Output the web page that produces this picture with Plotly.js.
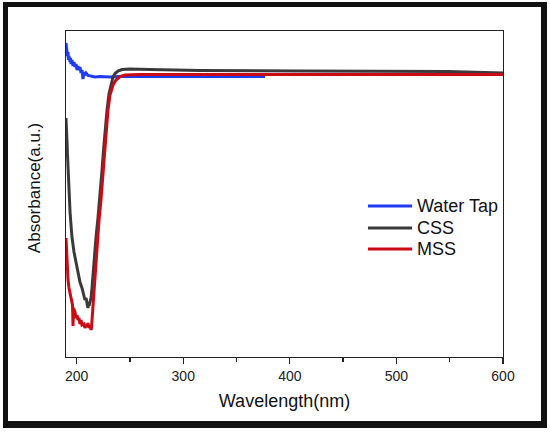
<!DOCTYPE html>
<html>
<head>
<meta charset="utf-8">
<script src="https://cdn.plot.ly/plotly-3.0.1.min.js"></script>
<style>
  html, body { margin: 0; padding: 0; background: #ffffff; }
  #wrap { position: relative; width: 550px; height: 432px; overflow: hidden; background: #fff; }
  #chart { position: absolute; left: 0; top: 0; width: 550px; height: 432px; }
  #frame { position: absolute; left: 3px; top: 2px; width: 544px; height: 426px; box-sizing: border-box;
           border-top: 5px solid #111; border-left: 5px solid #111; border-right: 6px solid #111; border-bottom: 7px solid #111;
           pointer-events: none; }
</style>
</head>
<body>
<div id="wrap">
  <div id="chart"></div>
  <div id="frame"></div>
</div>
<script>
// ---- Data (wavelength in nm, absorbance in arbitrary units) ----
var seriesNames = ["Water Tap", "CSS", "MSS"];

var waterTapX = [190, 190.5, 190.9, 191.4, 191.9, 192.3, 192.8, 193.8, 194.2, 194.7, 195.6, 196.6, 197.5, 198.4, 199.4,
  200.3, 201.3, 202.2, 203.1, 204.1, 205.0, 205.9, 206.9, 207.8, 208.8, 210.6, 212.5, 217.2, 221.9, 231.3, 240.7,
  268.8, 315.7, 376.7];
var waterTapY = [3.14, 3.07, 3.10, 3.01, 3.05, 2.97, 3.01, 2.95, 2.99, 2.93, 2.97, 2.91, 2.95, 2.90, 2.93,
  2.87, 2.91, 2.87, 2.90, 2.84, 2.87, 2.78, 2.85, 2.82, 2.84, 2.815, 2.81, 2.80, 2.805, 2.80, 2.805,
  2.805, 2.805, 2.805];

var cssX = [190, 190.5, 190.9, 191.4, 191.9, 192.3, 192.8, 193.8, 194.7, 195.6, 197.5, 199.4, 201.3, 203.1, 205.0,
  205.9, 206.9, 207.8, 208.8, 209.7, 210.6, 211.1, 211.6, 212.5, 213.5, 214.4, 215.3, 216.3, 218.1, 220.0, 221.9,
  223.8, 225.2, 226.6, 228.5, 230.3, 232.2, 234.1, 236.0, 238.8, 242.5, 250.0, 268.8, 315.7, 409.5, 548, 600];
var cssY = [2.39, 2.32, 2.17, 2.02, 1.87, 1.72, 1.57, 1.45, 1.32, 1.20, 1.05, 0.95, 0.85, 0.75, 0.69,
  0.64, 0.61, 0.57, 0.59, 0.54, 0.49, 0.54, 0.51, 0.55, 0.59, 0.69, 0.82, 0.97, 1.19, 1.39, 1.60,
  1.87, 2.07, 2.27, 2.47, 2.63, 2.73, 2.80, 2.835, 2.86, 2.875, 2.88, 2.875, 2.865, 2.86, 2.855, 2.84];

var mssX = [190, 190.5, 190.9, 191.4, 191.9, 192.8, 193.8, 194.7, 195.6, 196.1, 196.6, 197.0, 198.4, 199.4, 200.3,
  201.3, 202.2, 203.1, 204.1, 205.0, 206.9, 207.8, 208.8, 209.7, 210.6, 211.6, 212.5, 213.5, 213.9, 215.3, 217.2,
  218.6, 220.0, 221.0, 222.8, 224.7, 226.1, 227.5, 229.4, 231.3, 234.1, 236.9, 240.7, 245.3, 259.4, 409.5, 600];
var mssY = [1.19, 1.07, 0.95, 0.85, 0.77, 0.69, 0.64, 0.59, 0.54, 0.52, 0.31, 0.49, 0.45, 0.39, 0.42,
  0.37, 0.39, 0.33, 0.37, 0.32, 0.33, 0.29, 0.32, 0.30, 0.34, 0.29, 0.32, 0.27, 0.29, 0.52, 0.82,
  1.02, 1.21, 1.37, 1.57, 1.85, 2.07, 2.27, 2.47, 2.62, 2.72, 2.77, 2.805, 2.82, 2.825, 2.825, 2.825];

var xTickVals = [200, 300, 400, 500, 600];
var xTickText = ["200", "300", "400", "500", "600"];
var xRange = [190, 600];
var yRange = [0, 3.26];
var xTitle = "Wavelength(nm)";
var yTitle = "Absorbance(a.u.)";
var colors = ["#1f3cf2", "#3a3a3a", "#cc0a14"];

// ---- Chart ----
var FONT = "Liberation Sans, Arial, Helvetica, sans-serif";
var xs = [waterTapX, cssX, mssX];
var ys = [waterTapY, cssY, mssY];
var traces = seriesNames.map(function (n, i) {
  return { x: xs[i], y: ys[i], name: n, type: "scatter", mode: "lines",
           line: { color: colors[i], width: 3 } };
});

// legend drawn as a key inside the plot (paper coordinates)
var legX0 = 0.691, legX1 = 0.792, legTextX = 0.7986;
var legRowsY = [0.4632, 0.3957, 0.3313];
var shapes = [], annotations = [];
seriesNames.forEach(function (n, i) {
  shapes.push({ type: "line", xref: "paper", yref: "paper", x0: legX0, x1: legX1, y0: legRowsY[i], y1: legRowsY[i],
                line: { color: colors[i], width: 3 } });
  annotations.push({ text: n, xref: "paper", yref: "paper", x: legTextX, y: legRowsY[i],
                     xanchor: "left", yanchor: "middle", showarrow: false,
                     font: { family: FONT, size: 18, color: "#111" } });
});
annotations.push({
  text: yTitle, xref: "paper", yref: "paper", x: 0, y: 0.518,
  xanchor: "center", yanchor: "middle", xshift: -32, textangle: -90, showarrow: false,
  font: { family: FONT, size: 17, color: "#111" }
});

var layout = {
  width: 550, height: 432,
  margin: { l: 66, r: 47, t: 31, b: 75 },
  paper_bgcolor: "#ffffff", plot_bgcolor: "#ffffff",
  font: { family: FONT, color: "#222" },
  showlegend: false,
  xaxis: {
    range: xRange, tickmode: "array", tickvals: xTickVals, ticktext: xTickText,
    ticks: "outside", ticklen: 6, tickwidth: 1.3, tickcolor: "#222",
    minor: { dtick: 50, tick0: 200, ticks: "outside", ticklen: 3.5, tickwidth: 1.3, tickcolor: "#222", showgrid: false },
    showline: true, linecolor: "#222", linewidth: 1.3, mirror: true,
    showgrid: false, zeroline: false,
    tickfont: { family: FONT, size: 14, color: "#222" },
    title: { text: xTitle, font: { family: FONT, size: 18, color: "#111" }, standoff: 11 }
  },
  yaxis: {
    range: yRange, showticklabels: false, ticks: "",
    showline: true, linecolor: "#222", linewidth: 1.3, mirror: true,
    showgrid: false, zeroline: false
  },
  shapes: shapes,
  annotations: annotations
};

Plotly.newPlot("chart", traces, layout, { displayModeBar: false, staticPlot: true });
</script>
</body>
</html>
